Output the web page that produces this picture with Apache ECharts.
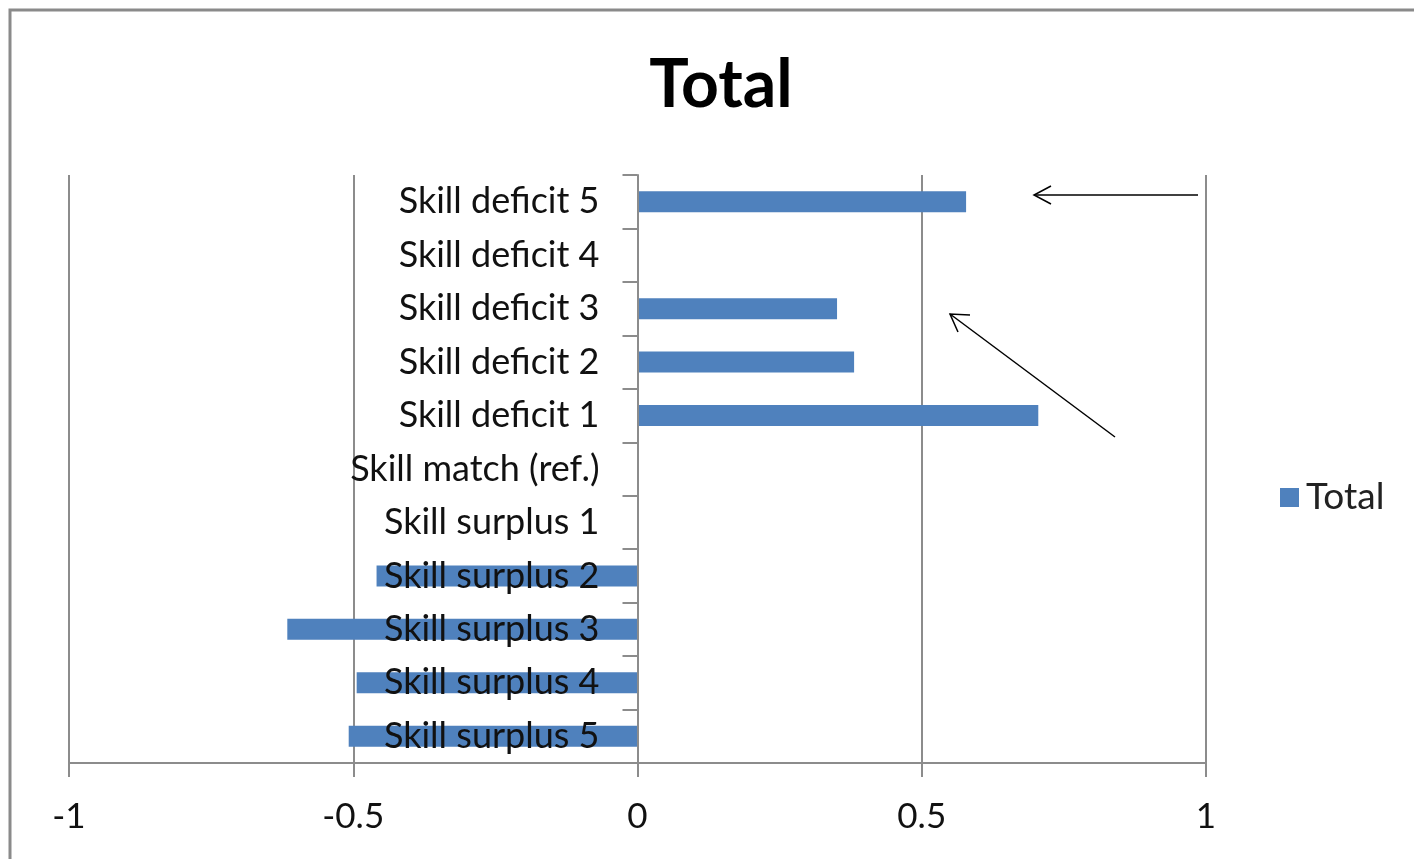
<!DOCTYPE html>
<html>
<head>
<meta charset="utf-8">
<script src="https://cdn.jsdelivr.net/npm/echarts@6/dist/echarts.min.js"></script>
<style>
  html, body { margin: 0; padding: 0; background: #fff; }
  #chart { width: 1414px; height: 859px; }
</style>
</head>
<body>
<div id="chart"></div>
<script>
// Categories listed top to bottom (axis is inverted)
const categories = [
  'Skill deficit 5', 'Skill deficit 4', 'Skill deficit 3', 'Skill deficit 2', 'Skill deficit 1',
  'Skill match (ref.)',
  'Skill surplus 1', 'Skill surplus 2', 'Skill surplus 3', 'Skill surplus 4', 'Skill surplus 5'
];
const totalValues = [0.578, 0, 0.351, 0.381, 0.705, 0, 0, -0.459, -0.616, -0.494, -0.508];
const xTicks = [-1, -0.5, 0, 0.5, 1];

const FONT = 'Lato, "Noto Sans", sans-serif';
const GRID_LEFT = 69, GRID_RIGHT = 208;
const GRID_WIDTH = 1414 - GRID_LEFT - GRID_RIGHT;

const chart = echarts.init(document.getElementById('chart'));

chart.setOption({
  animation: false,
  backgroundColor: '#ffffff',
  title: {
    text: 'Total',
    left: 716,
    textAlign: 'center',
    top: 48,
    textStyle: { fontFamily: FONT, fontSize: 66, fontWeight: 'bold', color: '#000' }
  },
  legend: {
    data: ['Total'],
    left: 1280,
    top: 479,
    padding: 0,
    itemWidth: 19,
    itemHeight: 19,
    itemGap: 10,
    icon: 'rect',
    textStyle: { fontFamily: FONT, fontSize: 37, color: '#222', padding: [0, 0, 0, 2] }
  },
  grid: {
    left: GRID_LEFT, right: GRID_RIGHT, top: 175, bottom: 96,
    containLabel: false, outerBoundsMode: 'none'
  },
  xAxis: {
    type: 'value',
    min: xTicks[0],
    max: xTicks[xTicks.length - 1],
    interval: 0.5,
    axisLine: { show: true, onZero: false, lineStyle: { color: '#8c8c8c', width: 2 } },
    axisTick: { show: true, length: 14, lineStyle: { color: '#8c8c8c', width: 2 } },
    splitLine: { show: true, lineStyle: { color: '#8c8c8c', width: 2 } },
    axisLabel: { fontFamily: FONT, fontSize: 35, color: '#111', margin: 36 }
  },
  yAxis: {
    type: 'category',
    data: categories,
    inverse: true,
    z: 5,
    // place the category axis on the zero line of the symmetric value axis
    offset: -GRID_WIDTH / 2,
    axisLine: { show: true, onZero: false, lineStyle: { color: '#8c8c8c', width: 2 } },
    axisTick: { show: true, length: 15, lineStyle: { color: '#8c8c8c', width: 2 } },
    axisLabel: { fontFamily: FONT, fontSize: 36, color: '#111', margin: 38 }
  },
  series: [{
    name: 'Total',
    type: 'bar',
    data: totalValues,
    barWidth: 21,
    itemStyle: { color: '#4f81bd' }
  }],
  graphic: [
    // outer frame
    { type: 'rect', shape: { x: 10, y: 10, width: 1420, height: 870 },
      style: { fill: null, stroke: '#8a8a8a', lineWidth: 3 }, silent: true, z: 10 },
    // arrow pointing at Skill deficit 5
    { type: 'line', shape: { x1: 1198, y1: 195, x2: 1034, y2: 195 },
      style: { stroke: '#000', lineWidth: 1.5 }, z: 10 },
    { type: 'polyline', shape: { points: [[1051, 186], [1034, 195], [1051, 204]] },
      style: { stroke: '#000', lineWidth: 1.5, fill: null }, z: 10 },
    // arrow pointing towards Skill deficit 3
    { type: 'line', shape: { x1: 1115, y1: 437, x2: 950, y2: 314 },
      style: { stroke: '#000', lineWidth: 1.5 }, z: 10 },
    { type: 'polyline', shape: { points: [[970, 315], [950, 314], [958, 332]] },
      style: { stroke: '#000', lineWidth: 1.5, fill: null }, z: 10 }
  ]
});
</script>
</body>
</html>
